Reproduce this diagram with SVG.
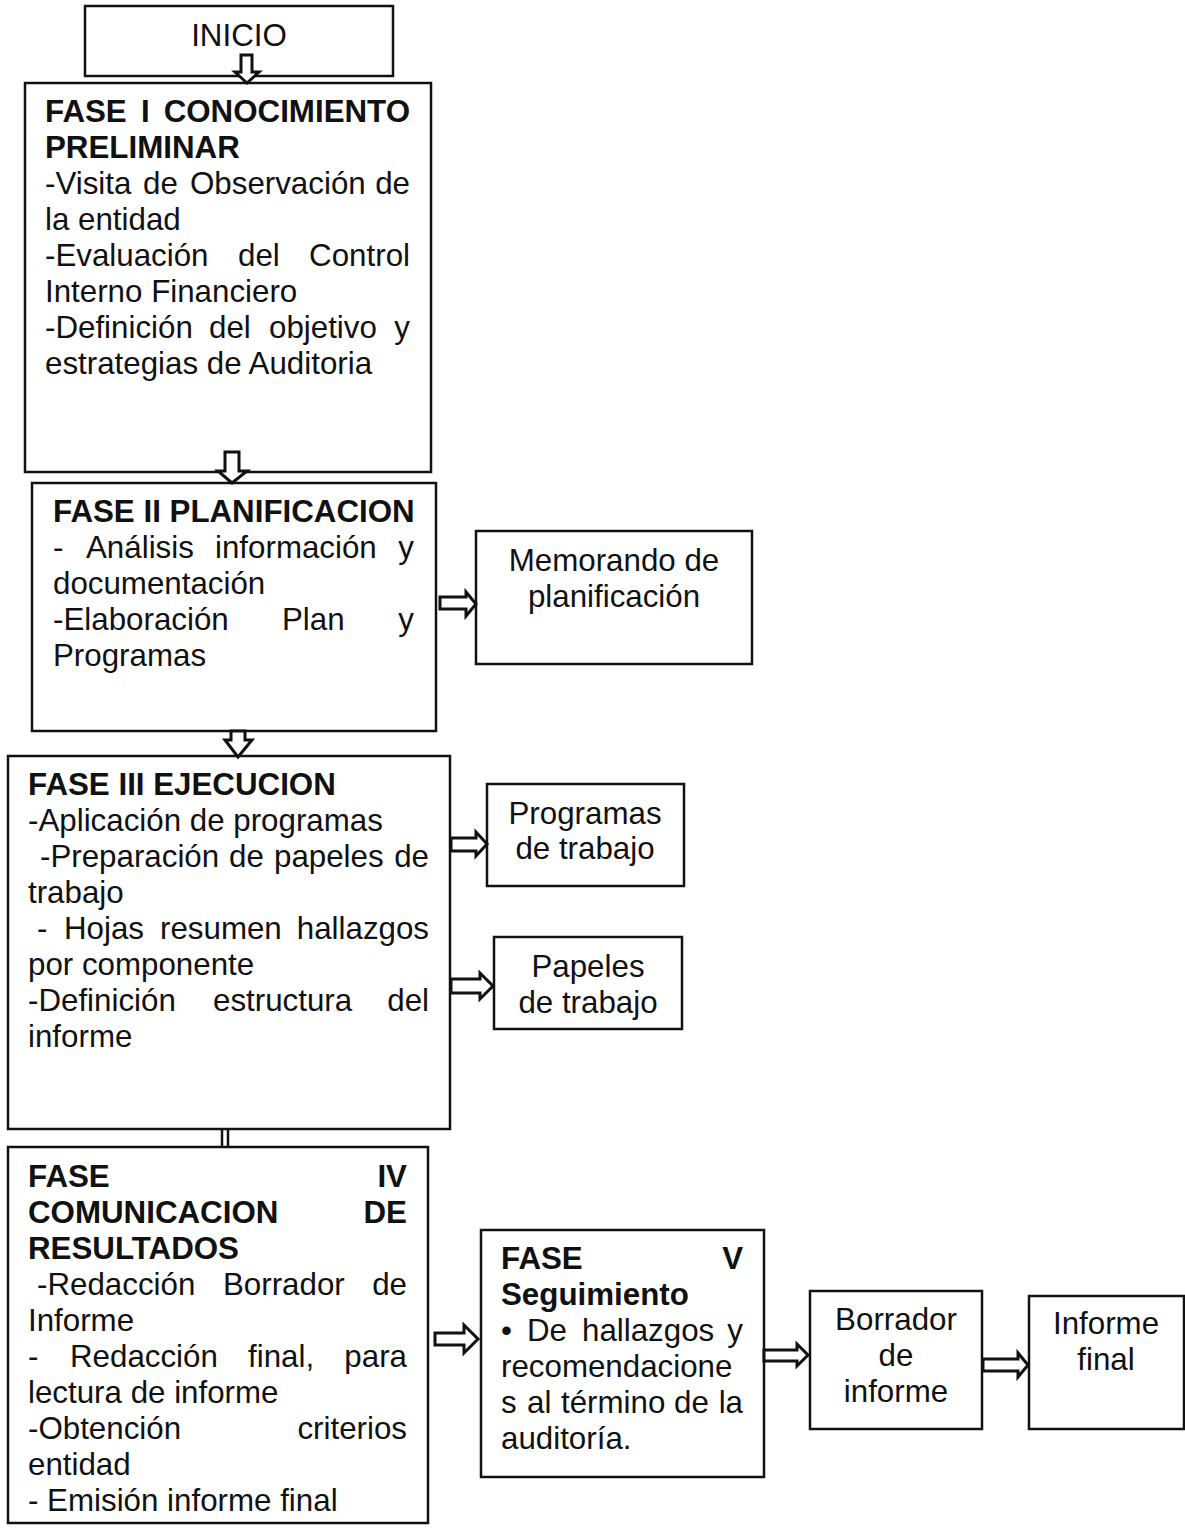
<svg xmlns="http://www.w3.org/2000/svg" width="1185" height="1529" viewBox="0 0 1185 1529">
<style>
.box{fill:#fff;stroke:#111;stroke-width:2.5}
.arr{fill:#fff;stroke:#111;stroke-width:3;stroke-linejoin:miter}
text{font-family:"Liberation Sans",Arial,sans-serif;font-size:31.3px;fill:#111}
.b{font-weight:bold}
.e{text-anchor:end}
.m{text-anchor:middle}
</style>
<rect width="1185" height="1529" fill="#fff"/>

<g id="inicio">
<rect class="box" x="85" y="6" width="308" height="70"/>
<text class="m" x="239" y="46">INICIO</text>
</g>

<g id="fase1">
<rect class="box" x="25" y="83" width="406" height="389"/>
<text class="b" x="45" y="122">FASE</text><text class="b" x="141" y="122">I</text><text class="b e" x="410" y="122">CONOCIMIENTO</text>
<text class="b" x="45" y="158">PRELIMINAR</text>
<text x="45" y="194">-Visita</text><text x="143" y="194">de</text><text x="190" y="194">Observación</text><text class="e" x="410" y="194">de</text>
<text x="45" y="230">la entidad</text>
<text x="45" y="266">-Evaluación</text><text x="238" y="266">del</text><text class="e" x="410" y="266">Control</text>
<text x="45" y="302">Interno Financiero</text>
<text x="45" y="338">-Definición</text><text x="209" y="338">del</text><text x="269" y="338">objetivo</text><text class="e" x="410" y="338">y</text>
<text x="45" y="374">estrategias de Auditoria</text>
</g>

<g id="fase2">
<rect class="box" x="32" y="483" width="404" height="248"/>
<text class="b" x="53" y="522">FASE II PLANIFICACION</text>
<text x="53" y="558">-</text><text x="86" y="558">Análisis</text><text x="215" y="558">información</text><text class="e" x="414" y="558">y</text>
<text x="53" y="594">documentación</text>
<text x="53" y="630">-Elaboración</text><text x="282" y="630">Plan</text><text class="e" x="414" y="630">y</text>
<text x="53" y="666">Programas</text>
</g>

<g id="memorando">
<rect class="box" x="476" y="531" width="276" height="133"/>
<text class="m" x="614" y="571">Memorando de</text>
<text class="m" x="614" y="607">planificación</text>
</g>

<g id="fase3">
<rect class="box" x="8" y="756" width="442" height="373"/>
<text class="b" x="28" y="795">FASE III EJECUCION</text>
<text x="28" y="831">-Aplicación de programas</text>
<text x="40" y="867">-Preparación</text><text x="229" y="867">de</text><text x="274" y="867">papeles</text><text class="e" x="429" y="867">de</text>
<text x="28" y="903">trabajo</text>
<text x="37" y="939">-</text><text x="64" y="939">Hojas</text><text x="160" y="939">resumen</text><text class="e" x="429" y="939">hallazgos</text>
<text x="28" y="975">por componente</text>
<text x="28" y="1011">-Definición</text><text x="213" y="1011">estructura</text><text class="e" x="429" y="1011">del</text>
<text x="28" y="1047">informe</text>
</g>

<g id="programas">
<rect class="box" x="487" y="784" width="197" height="102"/>
<text class="m" x="585" y="824">Programas</text>
<text class="m" x="585" y="859">de trabajo</text>
</g>

<g id="papeles">
<rect class="box" x="494" y="937" width="188" height="92"/>
<text class="m" x="588" y="977">Papeles</text>
<text class="m" x="588" y="1013">de trabajo</text>
</g>

<g id="fase4">
<rect class="box" x="8" y="1147" width="420" height="376"/>
<text class="b" x="28" y="1187">FASE</text><text class="b e" x="407" y="1187">IV</text>
<text class="b" x="28" y="1223">COMUNICACION</text><text class="b e" x="407" y="1223">DE</text>
<text class="b" x="28" y="1259">RESULTADOS</text>
<text x="37" y="1295">-Redacción</text><text x="223" y="1295">Borrador</text><text class="e" x="407" y="1295">de</text>
<text x="28" y="1331">Informe</text>
<text x="28" y="1367">-</text><text x="70" y="1367">Redacción</text><text x="248" y="1367">final,</text><text class="e" x="407" y="1367">para</text>
<text x="28" y="1403">lectura de informe</text>
<text x="28" y="1439">-Obtención</text><text class="e" x="407" y="1439">criterios</text>
<text x="28" y="1475">entidad</text>
<text x="28" y="1511">- Emisión informe final</text>
</g>

<g id="fase5">
<rect class="box" x="481" y="1230" width="283" height="247"/>
<text class="b" x="501" y="1269">FASE</text><text class="b e" x="743" y="1269">V</text>
<text class="b" x="501" y="1305">Seguimiento</text>
<text x="501" y="1341">•</text><text x="527" y="1341">De</text><text x="582" y="1341">hallazgos</text><text class="e" x="743" y="1341">y</text>
<text x="501" y="1377">recomendacione</text>
<text x="501" y="1413">s</text><text x="527" y="1413">al</text><text x="561" y="1413">término</text><text x="674" y="1413">de</text><text class="e" x="743" y="1413">la</text>
<text x="501" y="1449">auditoría.</text>
</g>

<g id="borrador">
<rect class="box" x="810" y="1291" width="172" height="138"/>
<text class="m" x="896" y="1330">Borrador</text>
<text class="m" x="896" y="1366">de</text>
<text class="m" x="896" y="1402">informe</text>
</g>

<g id="informefinal">
<rect class="box" x="1029" y="1296" width="155" height="133"/>
<text class="m" x="1106" y="1334">Informe</text>
<text class="m" x="1106" y="1370">final</text>
</g>

<g id="connectors">
<path class="arr" d="M241,55 H252 V72 H259 L247,83 L235,72 H241 Z"/>
<path class="arr" d="M225,452 H239 V471 H247 L232,483 L218,471 H225 Z"/>
<path class="arr" d="M231,731 H245 V740 H252 L238,757 L225,740 H231 Z"/>
<path class="arr" d="M440,597 H466 V592 L476,604 L466,616 V609 H440 Z"/>
<path class="arr" d="M451,838 H476 V832 L487,844 L476,856 V851 H451 Z"/>
<path class="arr" d="M451,979 H480 V973 L493,986 L480,999 V993 H451 Z"/>
<path class="arr" d="M435,1333 H464 V1325 L478,1339 L464,1353 V1345 H435 Z"/>
<path class="arr" d="M764,1350 H797 V1344 L808,1355 L797,1366 V1361 H764 Z"/>
<path class="arr" d="M983,1359 H1018 V1353 L1028,1365 L1018,1377 V1371 H983 Z"/>
<line x1="222" y1="1129" x2="222" y2="1147" stroke="#111" stroke-width="2.5"/>
<line x1="228" y1="1129" x2="228" y2="1147" stroke="#111" stroke-width="2.5"/>
</g>
</svg>
